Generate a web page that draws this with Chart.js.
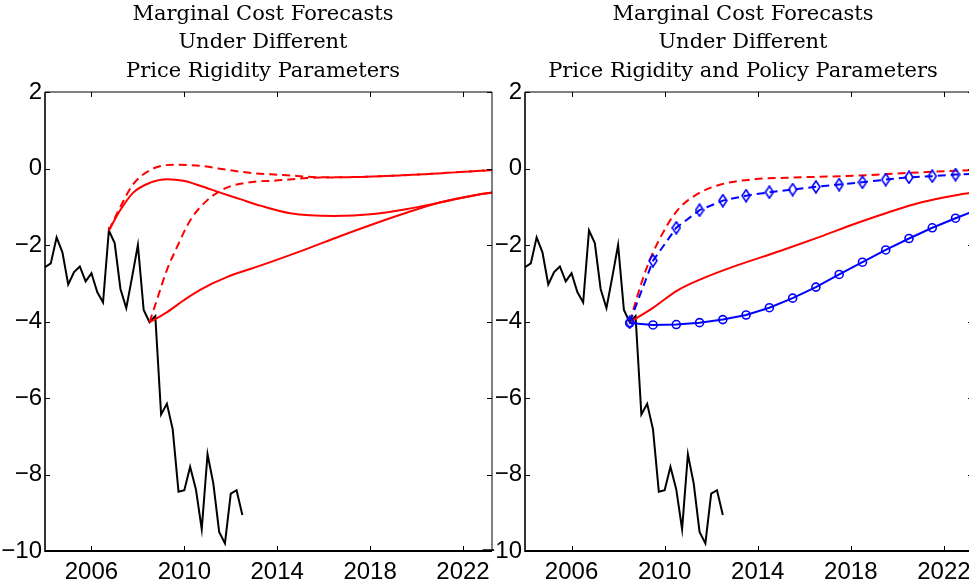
<!DOCTYPE html>
<html lang="en">
<head>
<meta charset="UTF-8">
<title>Marginal Cost Forecasts</title>
<script src="https://cdn.jsdelivr.net/npm/chart.js@4.4.0/dist/chart.umd.min.js"></script>
<style>
  html, body { margin: 0; padding: 0; background: #fff; overflow: hidden; width: 969px; height: 588px; }
  .panel { position: absolute; top: 0; }
  .title { position: absolute; top: -1.5px; z-index: 2; font-family: 'DejaVu Serif', serif; font-size: 21px; line-height: 28.5px; text-align: center; white-space: nowrap; color: #000; }
</style>
</head>
<body>
<div class="title" style="left:63px;width:400px">Marginal Cost Forecasts<br>Under Different<br>Price Rigidity Parameters</div>
<div class="title" style="left:493px;width:500px">Marginal Cost Forecasts<br>Under Different<br>Price Rigidity and Policy Parameters</div>
<canvas id="left" class="panel" width="500" height="588" style="left:0"></canvas>
<canvas id="right" class="panel" width="500" height="588" style="left:480px"></canvas>

<script>
// axes
const xTicks = [2006, 2010, 2014, 2018, 2022];
const yTicks = [-10, -8, -6, -4, -2, 0, 2];
const xMin = 2004, xMax = 2023.25;

// observed marginal cost, quarterly
const histYears = [2004, 2004.25, 2004.5, 2004.75, 2005, 2005.25, 2005.5, 2005.75,
  2006, 2006.25, 2006.5, 2006.75, 2007, 2007.25, 2007.5, 2007.75,
  2008, 2008.25, 2008.5, 2008.75, 2009, 2009.25, 2009.5, 2009.75,
  2010, 2010.25, 2010.5, 2010.75, 2011, 2011.25, 2011.5, 2011.75,
  2012, 2012.25, 2012.5];
const histValues = [-2.58, -2.48, -1.80, -2.19, -3.03, -2.71, -2.56, -2.95,
  -2.74, -3.23, -3.50, -1.62, -1.95, -3.15, -3.65, -2.84,
  -2.00, -3.70, -4.02, -3.86, -6.43, -6.15, -6.82, -8.45,
  -8.41, -7.80, -8.39, -9.43, -7.47, -8.24, -9.50, -9.80,
  -8.50, -8.41, -9.06];

// left panel: forecasts from 2006Q4
const earlySolidYears = [2006.75, 2007.23, 2007.8, 2008.53, 2009.25, 2009.96, 2010.68, 2011.54, 2012.4, 2013.27, 2014.56, 2016.43, 2018.15, 2019.6, 2021.0, 2022.4, 2023.25];
const earlySolidValues = [-1.62, -1.10, -0.63, -0.37, -0.28, -0.32, -0.45, -0.63, -0.80, -0.97, -1.17, -1.24, -1.19, -1.06, -0.89, -0.71, -0.63];
const earlyDashYears = [2006.75, 2007.23, 2007.8, 2008.53, 2009.53, 2010.68, 2012.12, 2013.12, 2014.27, 2016.0, 2018.15, 2020.3, 2023.25];
const earlyDashValues = [-1.62, -1.02, -0.41, -0.04, 0.10, 0.07, -0.06, -0.13, -0.17, -0.23, -0.21, -0.15, -0.04];

// left panel: forecasts from 2008Q3
const lateSolidYears = [2008.5, 2009.24, 2009.96, 2010.68, 2011.83, 2013.27, 2015.28, 2016.7, 2018.15, 2019.6, 2021.0, 2022.4, 2023.25];
const lateSolidValues = [-4.02, -3.76, -3.45, -3.17, -2.84, -2.54, -2.10, -1.77, -1.45, -1.15, -0.89, -0.71, -0.63];
const lateDashYears = [2008.5, 2008.81, 2009.24, 2009.68, 2010.25, 2010.97, 2011.83, 2013.12, 2013.84, 2015.28, 2016.7, 2018.15, 2020.3, 2023.25];
const lateDashValues = [-4.02, -3.45, -2.67, -2.06, -1.36, -0.84, -0.50, -0.34, -0.32, -0.25, -0.23, -0.21, -0.15, -0.04];

// right panel
const redSolidYears = [2008.5, 2009.53, 2010.54, 2011.69, 2012.84, 2014.99, 2016.7, 2018.15, 2019.6, 2021.0, 2022.4, 2023.25];
const redSolidValues = [-4.02, -3.63, -3.19, -2.86, -2.59, -2.15, -1.78, -1.45, -1.15, -0.89, -0.71, -0.63];
const redDashYears = [2008.5, 2008.81, 2009.24, 2009.82, 2010.54, 2011.4, 2012.4, 2013.84, 2015.28, 2018.15, 2021.0, 2023.25];
const redDashValues = [-4.02, -3.37, -2.58, -1.80, -1.10, -0.67, -0.42, -0.28, -0.24, -0.19, -0.10, -0.04];
const blueYears = [2008.5, 2009.5, 2010.5, 2011.5, 2012.5, 2013.5, 2014.5, 2015.5, 2016.5, 2017.5, 2018.5, 2019.5, 2020.5, 2021.5, 2022.5, 2023.25];
const blueCircleValues = [-4.04, -4.09, -4.08, -4.03, -3.95, -3.83, -3.64, -3.39, -3.10, -2.77, -2.45, -2.13, -1.83, -1.55, -1.30, -1.12];
const blueDiamondValues = [-4.02, -2.41, -1.55, -1.09, -0.84, -0.71, -0.62, -0.55, -0.48, -0.42, -0.36, -0.29, -0.23, -0.20, -0.16, -0.14];

const RED = '#ff0000', BLUE = '#0000ff';
const tickFont = { family: "'Liberation Sans Narrow', 'Liberation Sans', Arial, sans-serif", size: 24 };

function pts(xs, ys) { return xs.map((x, i) => ({ x: x, y: ys[i] })); }

function diamondMarker() {
  const c = document.createElement('canvas');
  c.width = 10; c.height = 14;
  const g = c.getContext('2d');
  g.strokeStyle = BLUE; g.lineWidth = 1.6;
  g.beginPath();
  g.moveTo(5, 1); g.lineTo(9, 7); g.lineTo(5, 13); g.lineTo(1, 7);
  g.closePath(); g.stroke();
  return c;
}

function redLine(xs, ys, dashed) {
  return { data: pts(xs, ys), borderColor: RED, borderWidth: 2, borderDash: dashed ? [8, 5] : [],
    pointRadius: 0, cubicInterpolationMode: 'monotone' };
}
const histLine = () => ({ data: pts(histYears, histValues), borderColor: '#000', borderWidth: 2, pointRadius: 0, tension: 0 });

// box with inward ticks on all four sides
const framePlugin = {
  id: 'frame',
  afterDatasetsDraw(chart) {
    const { ctx, chartArea: a, scales: { x, y } } = chart;
    const seg = (x1, y1, x2, y2, w) => { ctx.lineWidth = w; ctx.beginPath(); ctx.moveTo(x1, y1); ctx.lineTo(x2, y2); ctx.stroke(); };
    ctx.save();
    ctx.strokeStyle = '#000';
    xTicks.forEach(v => {
      const px = Math.round(x.getPixelForValue(v)) + 0.5;
      seg(px, a.bottom, px, a.bottom - 5, 1);
      seg(px, a.top, px, a.top + 5, 1);
    });
    yTicks.forEach(v => {
      const py = Math.round(y.getPixelForValue(v)) + 0.5;
      seg(a.left, py, a.left + 5, py, 1);
      seg(a.right, py, a.right - 5, py, 1);
    });
    seg(a.left, a.top, a.right, a.top, 1);
    seg(a.right, a.top, a.right, a.bottom, 1);
    seg(a.left, a.top, a.left, a.bottom + 1, 1.6);
    seg(a.left, a.bottom, a.right, a.bottom, 2);
    ctx.restore();
  }
};

function makeChart(id, datasets, padRight) {
  return new Chart(document.getElementById(id), {
    type: 'line',
    data: { datasets: datasets },
    options: {
      responsive: false,
      animation: false,
      layout: { padding: { top: 92, right: padRight, left: 0, bottom: 0 } },
      plugins: { legend: { display: false }, tooltip: { enabled: false } },
      scales: {
        x: {
          type: 'linear', min: xMin, max: xMax,
          afterBuildTicks: s => { s.ticks = xTicks.map(v => ({ value: v })); },
          afterFit: s => { s.height = 37; },
          grid: { display: false, drawTicks: false },
          border: { display: false },
          ticks: { autoSkip: false, maxRotation: 0, padding: 7, color: '#000', font: tickFont, callback: v => String(v) }
        },
        y: {
          min: -10, max: 2,
          afterBuildTicks: s => { s.ticks = yTicks.map(v => ({ value: v })); },
          afterFit: s => { s.width = 45; },
          grid: { display: false, drawTicks: false },
          border: { display: false },
          ticks: { padding: 3, color: '#000', font: tickFont, callback: v => v < 0 ? '\u2212' + Math.abs(v) : String(v) }
        }
      }
    },
    plugins: [framePlugin]
  });
}

makeChart('left', [
  redLine(earlySolidYears, earlySolidValues, false),
  redLine(earlyDashYears, earlyDashValues, true),
  redLine(lateSolidYears, lateSolidValues, false),
  redLine(lateDashYears, lateDashValues, true),
  histLine()
], 8);

const markerSizes = blueYears.map((y, i) => i === blueYears.length - 1 ? 0 : 4);
makeChart('right', [
  { data: pts(blueYears, blueCircleValues), borderColor: BLUE, borderWidth: 2, tension: 0,
    pointStyle: 'circle', pointRadius: markerSizes, pointBorderColor: BLUE, pointBorderWidth: 1.6, pointBackgroundColor: 'rgba(0,0,0,0)' },
  { data: pts(blueYears, blueDiamondValues), borderColor: BLUE, borderWidth: 2, borderDash: [8, 5], tension: 0,
    pointStyle: diamondMarker(), pointRadius: markerSizes },
  redLine(redSolidYears, redSolidValues, false),
  redLine(redDashYears, redDashValues, true),
  histLine()
], 7);
</script>
</body>
</html>
